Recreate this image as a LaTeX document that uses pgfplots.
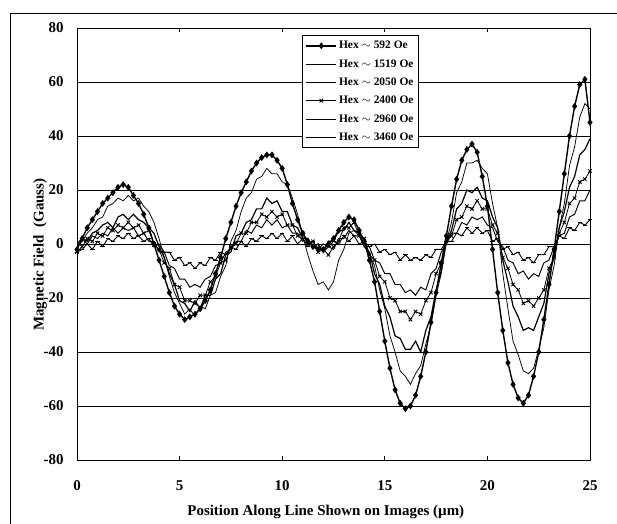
\documentclass[border=0pt]{standalone}
\usepackage{pgfplots}
\pgfplotsset{compat=1.18}
\usepackage{pgfplotstable}
\usepackage{fontspec}
\setmainfont{Liberation Serif}

\pgfplotstableread{
x s1 s2 s3 s4 s5 s6
0 -2 -1 0 -3 0 -3
0.25 2 1 2 -1 2 -2
0.5 6 4 1 2 0 0
0.75 9 6 4 1 3 -2
1 12 9 5 4 2 1
1.25 15 10 7 3 4 -1
1.5 17 14 8 6 3 2
1.75 19 15 6 5 6 1
2 21 17 10 7 4 3
2.25 22 16 11 6 6 2
2.5 21 18 9 8 5 4
2.75 18 16 11 6 6 2
3 15 17 9 7 3 3
3.25 11 14 8 4 4 1
3.5 6 12 6 5 1 2
3.75 0 8 4 0 1 -1
4 -6 2 -1 -2 -3 0
4.25 -12 -5 -5 -7 -3 -3
4.5 -18 -12 -11 -9 -8 -3
4.75 -23 -18 -15 -15 -9 -6
5 -26 -22 -21 -16 -13 -5
5.25 -28 -26 -22 -21 -13 -8
5.5 -27 -24 -25 -21 -16 -7
5.75 -26 -27 -21 -22 -15 -9
6 -24 -23 -24 -19 -16 -7
6.25 -21 -24 -19 -19 -13 -8
6.5 -17 -19 -19 -14 -12 -5
6.75 -11 -18 -13 -12 -8 -6
7 -5 -12 -11 -7 -7 -3
7.25 2 -8 -4 -6 -3 -4
7.5 8 1 -3 -1 -2 -1
7.75 14 5 3 0 1 -2
8 19 12 4 4 1 1
8.25 23 17 8 4 5 -1
8.5 27 19 9 8 4 2
8.75 30 24 13 8 7 1
9 32 25 13 11 6 3
9.25 33 28 17 10 9 2
9.5 33 26 15 12 7 4
9.75 31 26 16 10 9 2
10 28 23 12 11 6 4
10.25 22 22 12 7 7 1
10.5 15 17 7 7 4 3
10.75 9 11 6 3 4 0
11 4 3 2 4 1 2
11.25 1 -4 2 0 2 -1
11.5 -1 -10 -1 1 -1 1
11.75 -2 -15 0 -3 0 -2
12 -2 -14 -3 -2 -3 0
12.25 0 -17 1 -4 -1 -1
12.5 2 -14 1 -1 -2 1
12.75 5 -6 5 1 2 0
13 8 -2 5 6 2 3
13.25 10 4 8 6 5 1
13.5 9 5 5 8 3 3
13.75 5 3 4 3 3 0
14 1 2 -1 2 -1 1
14.25 -6 -4 -3 -4 -1 -1
14.5 -14 -8 -11 -6 -6 0
14.75 -25 -17 -15 -12 -7 -3
15 -36 -24 -23 -14 -11 -2
15.25 -46 -34 -27 -20 -11 -4
15.5 -54 -40 -34 -21 -15 -3
15.75 -59 -47 -35 -25 -15 -6
16 -61 -49 -39 -25 -18 -4
16.25 -60 -52 -39 -28 -17 -6
16.5 -56 -48 -36 -25 -19 -5
16.75 -49 -45 -40 -26 -16 -6
17 -40 -37 -32 -21 -17 -4
17.25 -29 -30 -27 -18 -11 -5
17.5 -18 -19 -17 -11 -9 -2
17.75 -7 -11 -10 -7 -3 -2
18 3 1 1 1 0 1
18.25 14 8 5 3 4 1
18.5 24 19 13 9 4 4
18.75 31 23 15 10 8 3
19 35 30 20 14 7 6
19.25 37 30 19 13 10 4
19.5 34 31 21 16 9 6
19.75 25 28 17 13 10 4
20 14 26 16 13 7 5
20.25 -2 15 10 7 6 1
20.5 -18 6 6 4 1 2
20.75 -32 -11 -6 -5 -1 -2
21 -44 -24 -14 -9 -6 -1
21.25 -52 -36 -23 -15 -7 -4
21.5 -57 -41 -27 -17 -11 -3
21.75 -59 -47 -32 -22 -10 -6
22 -56 -48 -31 -21 -13 -5
22.25 -49 -46 -32 -23 -11 -7
22.5 -40 -39 -27 -20 -12 -4
22.75 -28 -31 -22 -17 -7 -4
23 -15 -17 -11 -9 -6 -1
23.25 -2 -8 -5 -5 -1 -1
23.5 12 6 6 4 3 3
23.75 26 15 12 8 4 2
24 40 29 21 15 10 6
24.25 51 36 25 17 11 5
24.5 59 47 33 23 16 8
24.75 61 52 35 24 16 7
25 45 50 39 27 20 9
}\datatable

\begin{document}
\begin{tikzpicture}[x=1bp,y=1bp]
\useasboundingbox (0,0) rectangle (617,524);
\draw[line width=0.8bp] (10,0) -- (10,511) -- (617,511);
\begin{axis}[
  at={(77bp,64bp)}, anchor=south west,
  width=513bp, height=432bp, scale only axis,
  xmin=0, xmax=25, ymin=-80, ymax=80,
  xtick={0,5,...,25}, ytick={-80,-60,...,80},
  ymajorgrids, grid style={black, line width=0.7bp},
  axis line style={line width=0.7bp},
  xtick style={black, line width=0.7bp},
  ytick style={draw=none},
  xtick align=inside, major tick length=4bp,
  /pgf/number format/assume math mode=true,
  tick label style={font=\fontsize{15}{17}\selectfont\bfseries},
  xticklabel style={yshift=-17bp},
  yticklabel style={xshift=-10bp},
  xlabel={Position Along Line Shown on Images (µm)},
  xlabel style={at={(axis description cs:0.485,-0.12)}, anchor=center, font=\fontsize{15}{17}\selectfont\bfseries},
  ylabel={Magnetic Field\ \ (Gauss)},
  ylabel style={at={(axis description cs:-0.072,0.475)}, anchor=center, rotate=0, font=\fontsize{15}{17}\selectfont\bfseries},
  legend image code/.code={\draw[mark repeat=2,mark phase=2,#1] plot coordinates {(0bp,0bp) (15bp,0bp) (30bp,0bp)};},
  legend style={at={(axis description cs:0.439,0.984)}, anchor=north west,
    font=\fontsize{11.5}{13}\selectfont\bfseries, draw=black, line width=0.8bp,
    row sep=5.2bp, inner xsep=3bp, inner ysep=4bp, legend cell align=left},
  every axis plot/.append style={black},
]
\addplot[line width=1.4bp, mark=diamond*, mark size=2.3bp] table[x=x,y=s1] {\datatable};
\addlegendentry{Hex $\sim$ 592 Oe}
\addplot[line width=0.75bp] table[x=x,y=s2] {\datatable};
\addlegendentry{Hex $\sim$ 1519 Oe}
\addplot[line width=1.2bp] table[x=x,y=s3] {\datatable};
\addlegendentry{Hex $\sim$ 2050 Oe}
\addplot[line width=0.8bp, mark=x, mark size=2.4bp, mark options={line width=0.9bp}] table[x=x,y=s4] {\datatable};
\addlegendentry{Hex $\sim$ 2400 Oe}
\addplot[line width=0.95bp] table[x=x,y=s5] {\datatable};
\addlegendentry{Hex $\sim$ 2960 Oe}
\addplot[line width=0.9bp, mark=-, mark size=2.2bp] table[x=x,y=s6] {\datatable};
\addlegendentry{Hex $\sim$ 3460 Oe}
\end{axis}
\end{tikzpicture}
\end{document}
